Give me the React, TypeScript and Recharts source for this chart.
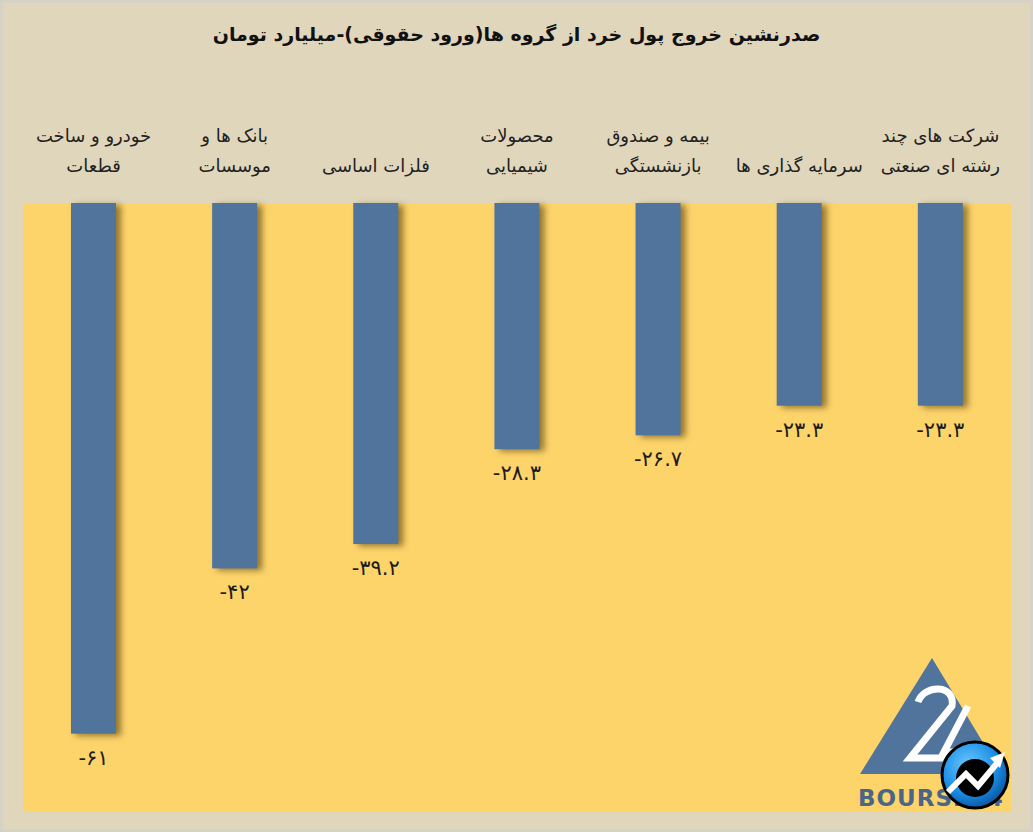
import { BarChart, Bar, XAxis, YAxis, LabelList, ReferenceArea } from "recharts";

const categories = [
  "خودرو و ساخت\nقطعات",
  "بانک ها و\nموسسات",
  "فلزات اساسی",
  "محصولات\nشیمیایی",
  "بیمه و صندوق\nبازنشستگی",
  "سرمایه گذاری ها",
  "شرکت های چند\nرشته ای صنعتی",
];
const values = [-61, -42, -39.2, -28.3, -26.7, -23.3, -23.3];

const title = "صدرنشین خروج پول خرد از گروه ها(ورود حقوقی)-میلیارد تومان";

const FONT = "'DejaVu Sans', sans-serif";
const BG = "#E0D6BC";
const PLOT = "#FDD46A";
const BLUE = "#51749C";

const data = categories.map((name, i) => ({ name, value: values[i] }));

const toPersian = (v: number) =>
  String(v).replace(/\d/g, (d) => "۰۱۲۳۴۵۶۷۸۹"[Number(d)]);

const CategoryTick = ({ x, y, payload }: any) => {
  const lines = String(payload.value).split("\n");
  const base = y - 30;
  return (
    <text
      x={x}
      y={base}
      textAnchor="middle"
      fontFamily={FONT}
      fontSize={18}
      fill="#222"
      direction="rtl"
    >
      {lines.map((line, i) => (
        <tspan key={i} x={x} y={base - (lines.length - 1 - i) * 30} dominantBaseline="central">
          {line}
        </tspan>
      ))}
    </text>
  );
};

const ShadowBar = ({ x, y, width, height }: any) => {
  const top = Math.min(y, y + height);
  const h = Math.abs(height);
  return (
    <rect
      x={x}
      y={top}
      width={width}
      height={h}
      fill={BLUE}
      style={{ filter: "drop-shadow(5px 2px 3px rgba(60,40,0,0.55))" }}
    />
  );
};

const ValueLabel = ({ x, y, width, height, value }: any) => {
  const bottom = Math.max(y, y + height);
  return (
    <text
      x={x + width / 2}
      y={bottom + 24}
      textAnchor="middle"
      dominantBaseline="central"
      fontFamily={FONT}
      fontSize={21}
      fill="#1c1c1c"
      direction="ltr"
    >
      {toPersian(value)}
    </text>
  );
};

const Logo = () => (
  <svg
    width={1033}
    height={832}
    style={{ position: "absolute", left: 0, top: 0, pointerEvents: "none" }}
  >
    <defs>
      <radialGradient id="ball" cx="40%" cy="35%" r="70%">
        <stop offset="0%" stopColor="#6cc8ff" />
        <stop offset="60%" stopColor="#1b8fe6" />
        <stop offset="100%" stopColor="#0a4f9a" />
      </radialGradient>
    </defs>
    <polygon points="932,658 860,774 1002,774" fill={BLUE} />
    <path
      d="M918,702 C924,684 956,684 952,706 L910,758 L948,758"
      stroke="#fff"
      strokeWidth={7}
      fill="none"
    />
    <path d="M968,706 L944,752 L985,752" stroke="#fff" strokeWidth={7} fill="none" />
    <text
      x={858}
      y={806}
      fontFamily="'DejaVu Sans', sans-serif"
      fontWeight="bold"
      fontSize={23}
      fill="#4a6587"
      letterSpacing={1}
    >
      BOURSE24
    </text>
    <circle cx={975} cy={775} r={33} fill="url(#ball)" stroke="#000" strokeWidth={3} />
    <circle cx={975} cy={778} r={19} fill="#000" />
    <polyline
      points="948,792 966,774 978,786 998,762"
      stroke="#fff"
      strokeWidth={6}
      fill="none"
    />
    <polygon points="1005,752 990,758 1000,768" fill="#fff" />
  </svg>
);

export default function App() {
  return (
    <div
      style={{
        position: "absolute",
        left: 0,
        top: 0,
        width: 1033,
        height: 832,
        background: BG,
        boxShadow: "inset 0 0 0 3px #d6d2c6",
      }}
    >
      <div
        style={{
          position: "absolute",
          top: 23,
          left: 0,
          width: 1033,
          textAlign: "center",
          fontFamily: FONT,
          fontWeight: "bold",
          fontSize: 19,
          color: "#111",
          direction: "rtl",
        }}
      >
        {title}
      </div>
      <BarChart
        width={1033}
        height={832}
        data={data}
        margin={{ top: 83, right: 22, bottom: 20, left: 23 }}
        barCategoryGap="34%"
      >
        <ReferenceArea y1={-70} y2={0} fill={PLOT} fillOpacity={1} stroke="none" ifOverflow="extendDomain" />
        <XAxis
          dataKey="name"
          orientation="top"
          height={120}
          axisLine={false}
          tickLine={false}
          interval={0}
          tick={<CategoryTick />}
        />
        <YAxis hide domain={[-70, 0]} />
        <Bar dataKey="value" isAnimationActive={false} shape={<ShadowBar />}>
          <LabelList dataKey="value" content={<ValueLabel />} />
        </Bar>
      </BarChart>
      <Logo />
    </div>
  );
}
